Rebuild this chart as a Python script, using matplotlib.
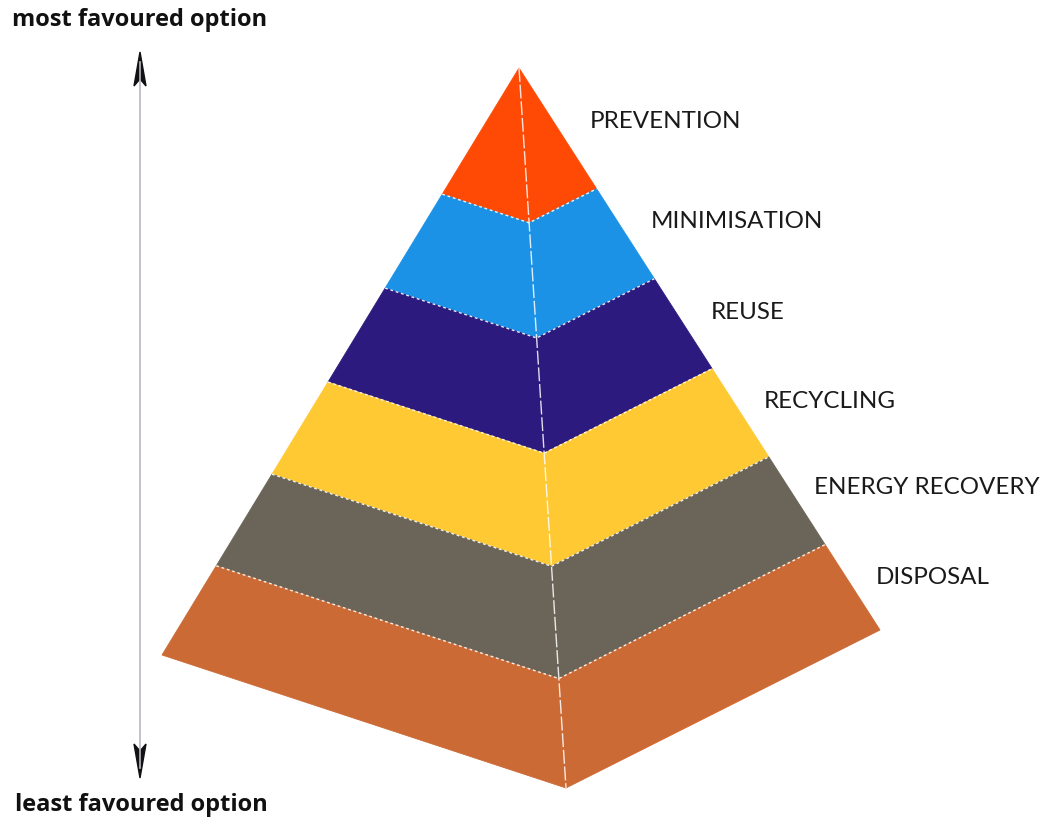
import matplotlib
matplotlib.use("Agg")
import matplotlib.pyplot as plt
from matplotlib.patches import Polygon
import numpy as np

# ---- data ----
levels = ["PREVENTION", "MINIMISATION", "REUSE", "RECYCLING", "ENERGY RECOVERY", "DISPOSAL"]
band_heights = [0.215, 0.160, 0.160, 0.157, 0.156, 0.152]   # share of pyramid height per level
colors = ["#FF4A05", "#1B92E6", "#2C1A7E", "#FFC933", "#6A6558", "#CC6A35"]
top_label = "most favoured option"
bottom_label = "least favoured option"

# ---- geometry (pixel-like coordinates) ----
W, H = 1043, 823
fig = plt.figure(figsize=(W / 100, H / 100), dpi=100)
ax = fig.add_axes([0, 0, 1, 1])
ax.set_xlim(0, W)
ax.set_ylim(H, 0)
ax.axis("off")

apex = np.array([519.0, 68.0])
left = np.array([162.0, 655.0])
front = np.array([566.0, 788.0])
right = np.array([880.0, 630.0])

def pt(corner, t):
    return apex + (corner - apex) * t

bounds = np.concatenate([[0], np.cumsum(band_heights)])
bounds = bounds / bounds[-1]

label_pos = [(590, 121), (651, 221), (711, 312), (764, 401), (814, 487), (876, 578)]

for i, (name, col) in enumerate(zip(levels, colors)):
    t0, t1 = bounds[i], bounds[i + 1]
    lf = [pt(left, t0), pt(front, t0), pt(front, t1), pt(left, t1)]
    rf = [pt(front, t0), pt(right, t0), pt(right, t1), pt(front, t1)]
    ax.add_patch(Polygon(lf, closed=True, facecolor=col, edgecolor=col, lw=0.6))
    ax.add_patch(Polygon(rf, closed=True, facecolor=col, edgecolor=col, lw=0.6))
    x, y = label_pos[i]
    ax.text(x, y, name, fontsize=17.4, family="Lato",
            color="#1a1a1a", va="center", ha="left")

# boundary lines (white dashed)
for t in bounds[1:-1]:
    ax.plot([pt(left, t)[0], pt(front, t)[0], pt(right, t)[0]],
            [pt(left, t)[1], pt(front, t)[1], pt(right, t)[1]],
            color="white", lw=1.0, ls=(0, (2, 2)), alpha=0.9)
# front edge
ax.plot([apex[0], front[0]], [apex[1], front[1]], color="white", lw=1.0,
        ls=(0, (10, 2)), alpha=0.85)

# vertical double arrow
ax.plot([140, 140], [62, 768], color="#b8b8c0", lw=1.2)
ax.add_patch(Polygon([[140, 52], [134, 86], [140, 79], [146, 86]], closed=True,
                     facecolor="#111111", edgecolor="#111111"))
ax.add_patch(Polygon([[140, 778], [134, 744], [140, 751], [146, 744]], closed=True,
                     facecolor="#111111", edgecolor="#111111"))

ax.text(12, 20, top_label, fontsize=17, fontweight="bold", family="Open Sans",
        color="#111111", va="center", ha="left")
ax.text(15, 805, bottom_label, fontsize=17, fontweight="bold", family="Open Sans",
        color="#111111", va="center", ha="left")

fig.savefig("out.png", dpi=100, facecolor="white")
